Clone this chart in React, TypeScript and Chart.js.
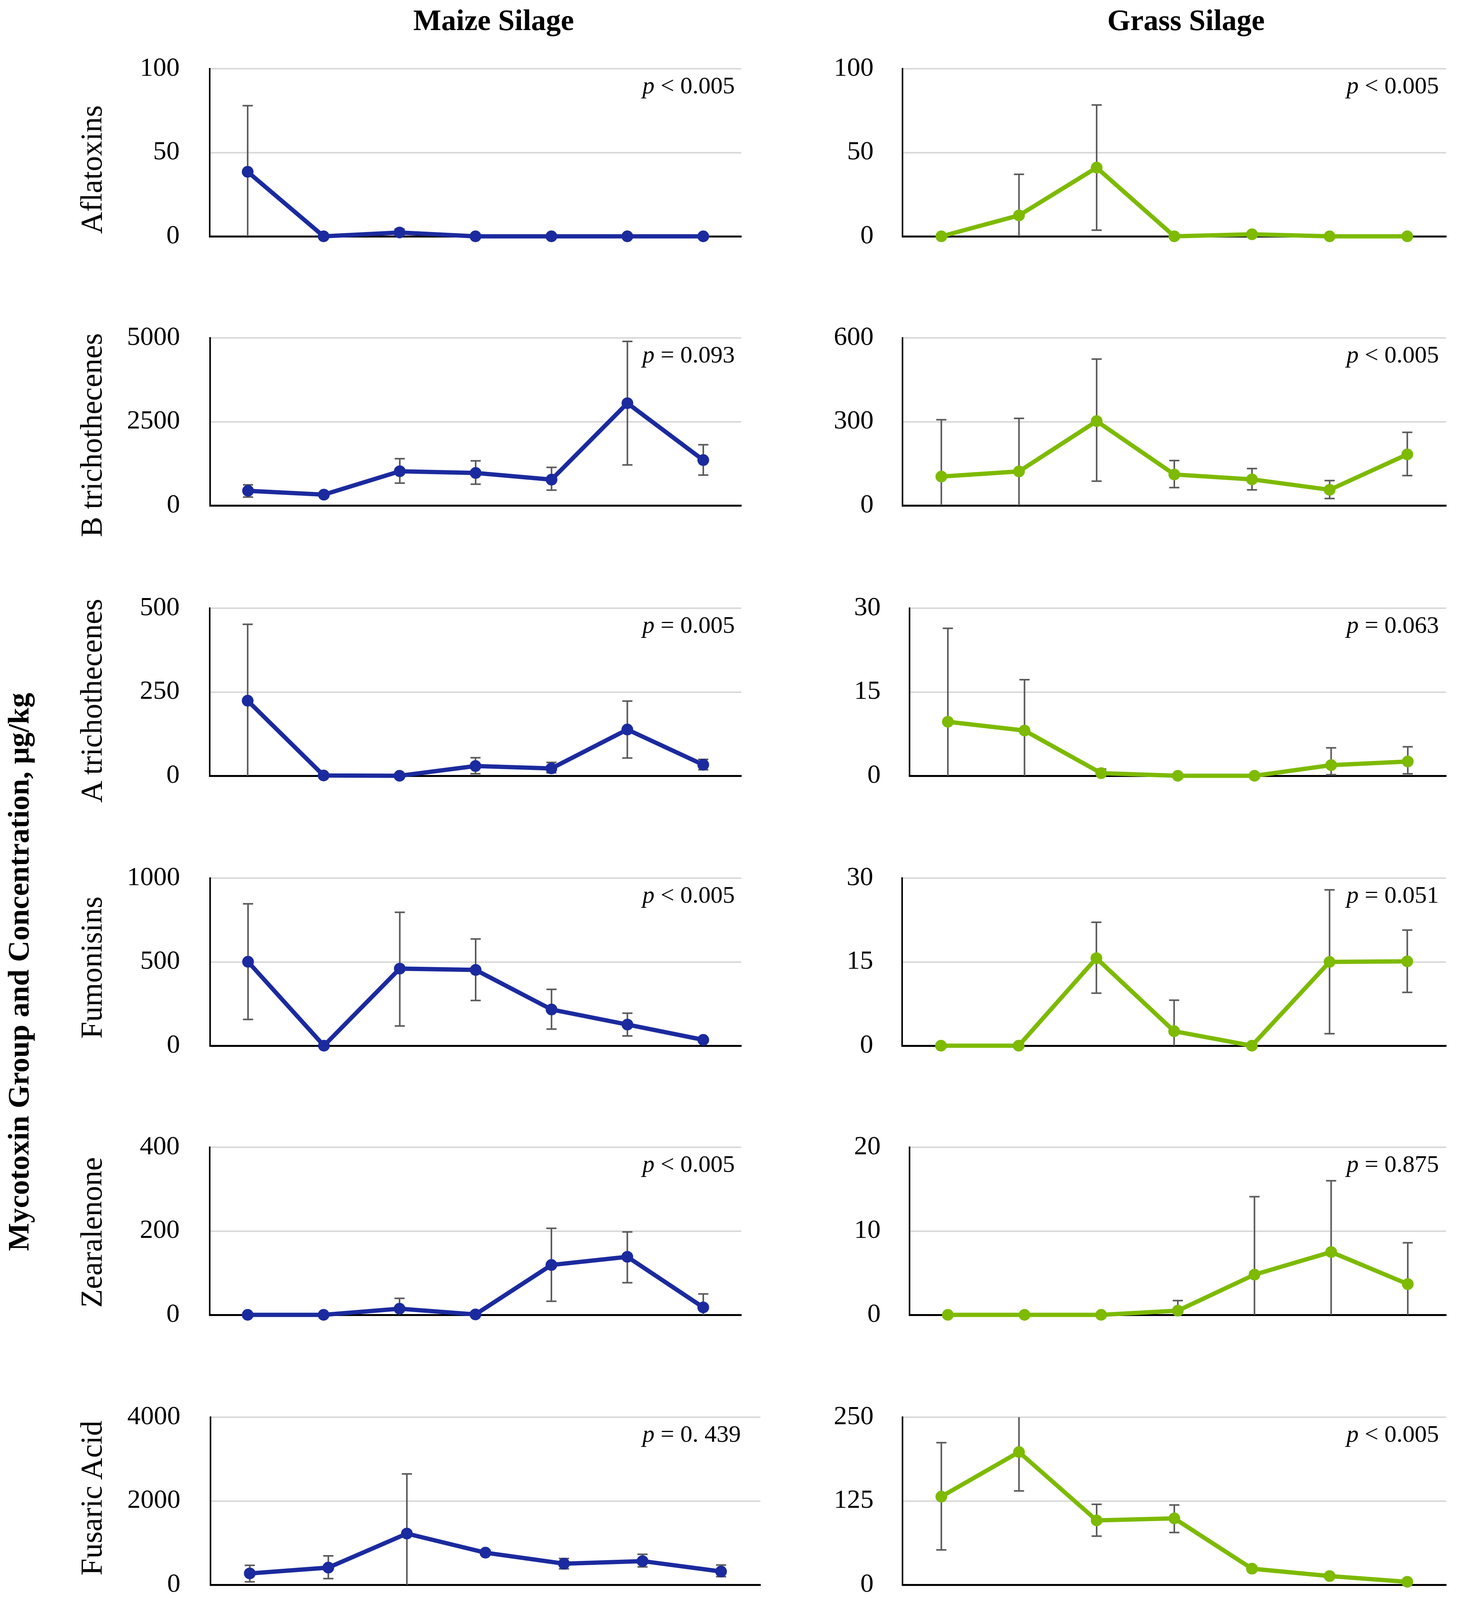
import React, { useEffect, useRef } from 'react';
import { Chart, registerables } from 'chart.js';

Chart.register(...registerables);

// ---------------- DATA ----------------
const years = ['2018', '2019', '2020', '2021', '2022', '2023', '2024'];

const rowNames = ['Aflatoxins', 'B trichothecenes', 'A trichothecenes', 'Fumonisins', 'Zearalenone', 'Fusaric Acid', 'Emerging'];

// Maize silage (mean, upper error, lower error)
const maizeAflaMean = [38.5, 0, 2.3, 0, 0, 0, 0];
const maizeAflaHi = [78, null, 4.3, null, null, null, null];
const maizeAflaLo = [-1, null, 0.5, null, null, null, null];

const maizeBtriMean = [438, 323, 1021, 969, 771, 3052, 1354];
const maizeBtriHi = [615, 400, 1396, 1333, 1135, 4896, 1813];
const maizeBtriLo = [250, 260, 667, 635, 458, 1208, 906];

const maizeAtriMean = [224, 1, 0, 29, 22, 138, 33];
const maizeAtriHi = [452, null, null, 54, 40, 223, 49];
const maizeAtriLo = [-5, null, null, 6, 9, 53, 18];

const maizeFumMean = [501, 0, 460, 452, 216, 126, 35];
const maizeFumHi = [847, null, 796, 637, 336, 194, null];
const maizeFumLo = [157, null, 118, 270, 99, 58, null];

const maizeZenMean = [0, 0, 14.7, 1, 119, 138.5, 17.8];
const maizeZenHi = [null, null, 39.5, null, 206.6, 198, 50];
const maizeZenLo = [null, null, -10, null, 32.5, 76.6, -14];

const maizeFusMean = [271, 410, 1222, 766, 503, 565, 317];
const maizeFusHi = [464, 689, 2646, 810, 627, 727, 472];
const maizeFusLo = [70, 147, -200, 720, 379, 426, 193];

const maizeEmeMean = [54.8, 3.5, 20.2, 17.2, 110, 97, 21.9];
const maizeEmeHi = [137, 10, 33, 28.7, 134.6, 128, 33.4];
const maizeEmeLo = [-27, -3, 8.5, 5.9, 86.6, 67.8, 12];

// Grass silage
const grassAflaMean = [0, 12.5, 41, 0, 1.2, 0, 0];
const grassAflaHi = [null, 37, 78.4, null, null, null, null];
const grassAflaLo = [null, -12, 3.7, null, null, null, null];

const grassBtriMean = [103.5, 122, 302, 111, 93.5, 56, 183];
const grassBtriHi = [307, 312, 524, 161, 132, 89, 262];
const grassBtriLo = [-100, -68, 87, 64, 56, 25, 107];

const grassAtriMean = [9.67, 8.1, 0.47, 0, 0, 1.9, 2.56];
const grassAtriHi = [26.4, 17.2, 1.2, null, null, 5.0, 5.2];
const grassAtriLo = [-7, -1, -0.3, null, null, 0.2, 0.35];

const grassFumMean = [0, 0, 15.67, 2.6, 0, 15.0, 15.1];
const grassFumHi = [null, null, 22.1, 8.15, null, 27.9, 20.7];
const grassFumLo = [null, null, 9.4, -3, null, 2.15, 9.55];

const grassZenMean = [0, 0, 0, 0.5, 4.8, 7.5, 3.67];
const grassZenHi = [null, null, null, 1.7, 14.1, 16.0, 8.6];
const grassZenLo = [null, null, null, -0.7, -4.5, -1, -1.3];

const grassFusMean = [131.5, 198, 96, 99, 24, 13, 4.4];
const grassFusHi = [212, 256, 120, 119, 28, null, null];
const grassFusLo = [52, 140, 72.5, 78, 20, null, null];

const grassEmeMean = [0, 20.2, 4.9, 0.8, 36.6, 31.4, 5.5];
const grassEmeHi = [null, 43.1, 8.6, null, 44.4, 43, 9.8];
const grassEmeLo = [null, -3, 1.5, null, 28.8, 19.9, 1.7];

// axis maxima and steps
const maizeMax = [100, 5000, 500, 1000, 400, 4000, 200];
const maizeStep = [50, 2500, 250, 500, 200, 2000, 100];
const grassMax = [100, 600, 30, 30, 20, 250, 50];
const grassStep = [50, 300, 15, 15, 10, 125, 25];

// p-value labels
const maizeP = ['< 0.005', '= 0.093', '= 0.005', '< 0.005', '< 0.005', '= 0. 439', '< 0.005'];
const grassP = ['< 0.005', '< 0.005', '= 0.063', '= 0.051', '= 0.875', '< 0.005', '< 0.005'];

// ---------------- STYLE / LAYOUT ----------------
const FONT = "'Liberation Serif', 'Times New Roman', serif";
const MAIZE_COLOR = '#1B2A9E';
const GRASS_COLOR = '#7DBA00';
const ERR_COLOR = '#595959';

const ROW_TOPS = [176, 865, 1557, 2248, 2937, 3628, 4318];
const ROW_H = 429;
const MAIZE_LEFT = [537, 538, 537, 538, 537, 539, 537];
const MAIZE_RIGHT = [1898, 1898, 1898, 1898, 1898, 1947, 1898];
const GRASS_LEFT = [2311, 2311, 2329, 2310, 2329, 2311, 2292];
const GRASS_RIGHT = [3703, 3703, 3703, 3703, 3703, 3703, 3703];
const LABEL_CY = [434, 1114, 1794, 2477, 3155, 3835, 4514];

const maizeSeries = [
  [maizeAflaMean, maizeAflaHi, maizeAflaLo],
  [maizeBtriMean, maizeBtriHi, maizeBtriLo],
  [maizeAtriMean, maizeAtriHi, maizeAtriLo],
  [maizeFumMean, maizeFumHi, maizeFumLo],
  [maizeZenMean, maizeZenHi, maizeZenLo],
  [maizeFusMean, maizeFusHi, maizeFusLo],
  [maizeEmeMean, maizeEmeHi, maizeEmeLo],
];
const grassSeries = [
  [grassAflaMean, grassAflaHi, grassAflaLo],
  [grassBtriMean, grassBtriHi, grassBtriLo],
  [grassAtriMean, grassAtriHi, grassAtriLo],
  [grassFumMean, grassFumHi, grassFumLo],
  [grassZenMean, grassZenHi, grassZenLo],
  [grassFusMean, grassFusHi, grassFusLo],
  [grassEmeMean, grassEmeHi, grassEmeLo],
];

const PAD_L = 300;
const PAD_R = 220;
const PAD_T = 150;
const PAD_B = 150;

function makeErrorBarPlugin(hi: (number | null)[], lo: (number | null)[]) {
  return {
    id: 'errorBars',
    beforeDatasetsDraw(chart: any) {
      const meta = chart.getDatasetMeta(0);
      const ys = chart.scales.y;
      const area = chart.chartArea;
      const ctx = chart.ctx;
      ctx.save();
      ctx.strokeStyle = ERR_COLOR;
      ctx.lineWidth = 4;
      meta.data.forEach((pt: any, i: number) => {
        const h = hi[i];
        const l = lo[i];
        if (h == null || l == null) return;
        const x = pt.x;
        let yTop = ys.getPixelForValue(h);
        let yBot = ys.getPixelForValue(l);
        const capTop = yTop >= area.top - 0.5;
        const capBot = yBot <= area.bottom + 0.5;
        yTop = Math.max(yTop, area.top);
        yBot = Math.min(yBot, area.bottom);
        ctx.beginPath();
        ctx.moveTo(x, yTop);
        ctx.lineTo(x, yBot);
        if (capTop) {
          ctx.moveTo(x - 13, yTop);
          ctx.lineTo(x + 13, yTop);
        }
        if (capBot) {
          ctx.moveTo(x - 13, yBot);
          ctx.lineTo(x + 13, yBot);
        }
        ctx.stroke();
      });
      ctx.restore();
    },
  };
}

type PanelProps = {
  mean: number[];
  hi: (number | null)[];
  lo: (number | null)[];
  max: number;
  step: number;
  color: string;
  plotLeft: number;
  plotRight: number;
  top: number;
  isBottom: boolean;
  gap: number;
};

function Panel(props: PanelProps) {
  const ref = useRef<HTMLCanvasElement | null>(null);
  const { mean, hi, lo, max, step, color, plotLeft, plotRight, top, isBottom, gap } = props;
  const xAxisH = isBottom ? 320 : 0;
  const padB = isBottom ? 0 : PAD_B;
  const width = plotRight - plotLeft + PAD_L + PAD_R;
  const height = PAD_T + ROW_H + xAxisH + padB;

  useEffect(() => {
    const canvas = ref.current;
    if (!canvas) return;
    const chart = new Chart(canvas, {
      type: 'line',
      data: {
        labels: years,
        datasets: [
          {
            data: mean,
            borderColor: color,
            backgroundColor: color,
            borderWidth: 11,
            pointRadius: 15,
            pointHoverRadius: 15,
            pointBackgroundColor: color,
            pointBorderWidth: 0,
            tension: 0,
            clip: false,
          } as any,
        ],
      },
      options: {
        animation: false,
        responsive: false,
        devicePixelRatio: 1,
        events: [],
        layout: { padding: { left: 0, right: PAD_R, top: PAD_T, bottom: padB } },
        plugins: {
          legend: { display: false },
          tooltip: { enabled: false },
          title: { display: false },
        },
        scales: {
          x: {
            type: 'category',
            offset: true,
            grid: { display: false, drawTicks: false, tickLength: 0 },
            border: { display: true, color: '#000000', width: 5 },
            ticks: {
              display: isBottom,
              minRotation: 90,
              maxRotation: 90,
              autoSkip: false,
              padding: 105,
              color: '#000000',
              font: { family: FONT, size: 70 },
            },
            afterFit: (s: any) => {
              s.height = xAxisH;
            },
          },
          y: {
            min: 0,
            max: max,
            ticks: {
              stepSize: step,
              padding: gap,
              color: '#000000',
              font: { family: FONT, size: 68 },
              callback: (v: any) => String(v),
            },
            grid: {
              color: (c: any) => (c.tick && c.tick.value === 0 ? 'rgba(0,0,0,0)' : '#D9D9D9'),
              lineWidth: 4,
              drawTicks: false,
              tickLength: 0,
            },
            border: { display: true, color: '#000000', width: 4 },
            afterFit: (s: any) => {
              s.width = PAD_L;
            },
          },
        },
      } as any,
      plugins: [makeErrorBarPlugin(hi, lo)],
    });
    return () => chart.destroy();
  }, []);

  return (
    <canvas
      ref={ref}
      width={width}
      height={height}
      style={{
        position: 'absolute',
        left: plotLeft - PAD_L,
        top: top - PAD_T,
        width: width,
        height: height,
      }}
    />
  );
}

function PLabel({ text, left, top }: { text: string; left: number; top: number }) {
  return (
    <div
      style={{
        position: 'absolute',
        left: left,
        top: top,
        fontFamily: FONT,
        fontSize: 62,
        lineHeight: 1,
        whiteSpace: 'pre',
        color: '#000',
      }}
    >
      <i>p</i>
      {' ' + text}
    </div>
  );
}

function RotLabel({ text, cx, cy, size, bold }: { text: string; cx: number; cy: number; size: number; bold?: boolean }) {
  const w = 1800;
  return (
    <div
      style={{
        position: 'absolute',
        left: cx - w / 2,
        top: cy - size / 2,
        width: w,
        height: size,
        fontFamily: FONT,
        fontSize: size,
        lineHeight: size + 'px',
        fontWeight: bold ? 'bold' : 'normal',
        textAlign: 'center',
        whiteSpace: 'nowrap',
        transform: 'rotate(-90deg)',
        transformOrigin: '50% 50%',
        color: '#000',
      }}
    >
      {text}
    </div>
  );
}

export default function App() {
  const panels: React.ReactNode[] = [];
  for (let r = 0; r < 7; r++) {
    const isBottom = r === 6;
    const [mm, mh, ml] = maizeSeries[r];
    const [gm, gh, gl] = grassSeries[r];
    panels.push(
      <Panel
        key={'m' + r}
        mean={mm as number[]}
        hi={mh as (number | null)[]}
        lo={ml as (number | null)[]}
        max={maizeMax[r]}
        step={maizeStep[r]}
        color={MAIZE_COLOR}
        plotLeft={MAIZE_LEFT[r]}
        plotRight={MAIZE_RIGHT[r]}
        top={ROW_TOPS[r]}
        isBottom={isBottom}
        gap={77}
      />
    );
    panels.push(
      <Panel
        key={'g' + r}
        mean={gm as number[]}
        hi={gh as (number | null)[]}
        lo={gl as (number | null)[]}
        max={grassMax[r]}
        step={grassStep[r]}
        color={GRASS_COLOR}
        plotLeft={GRASS_LEFT[r]}
        plotRight={GRASS_RIGHT[r]}
        top={ROW_TOPS[r]}
        isBottom={isBottom}
        gap={74}
      />
    );
  }

  return (
    <div
      style={{
        position: 'absolute',
        left: 0,
        top: 0,
        width: 3736,
        height: 4992,
        background: '#ffffff',
        overflow: 'hidden',
      }}
    >
      {panels}
      {ROW_TOPS.map((t, r) => (
        <PLabel key={'pm' + r} text={maizeP[r]} left={1645} top={t + 11} />
      ))}
      {ROW_TOPS.map((t, r) => (
        <PLabel key={'pg' + r} text={grassP[r]} left={3448} top={t + 11} />
      ))}
      {rowNames.map((n, r) => (
        <RotLabel key={'rl' + r} text={n} cx={234} cy={LABEL_CY[r]} size={78} />
      ))}
      <RotLabel text="Mycotoxin Group and Concentration, μg/kg" cx={47} cy={2488} size={76} bold />
      <div
        style={{
          position: 'absolute',
          left: 1264 - 600,
          width: 1200,
          top: 13,
          textAlign: 'center',
          fontFamily: FONT,
          fontSize: 76,
          lineHeight: 1,
          fontWeight: 'bold',
          color: '#000',
        }}
      >
        Maize Silage
      </div>
      <div
        style={{
          position: 'absolute',
          left: 3037 - 600,
          width: 1200,
          top: 13,
          textAlign: 'center',
          fontFamily: FONT,
          fontSize: 76,
          lineHeight: 1,
          fontWeight: 'bold',
          color: '#000',
        }}
      >
        Grass Silage
      </div>
    </div>
  );
}
